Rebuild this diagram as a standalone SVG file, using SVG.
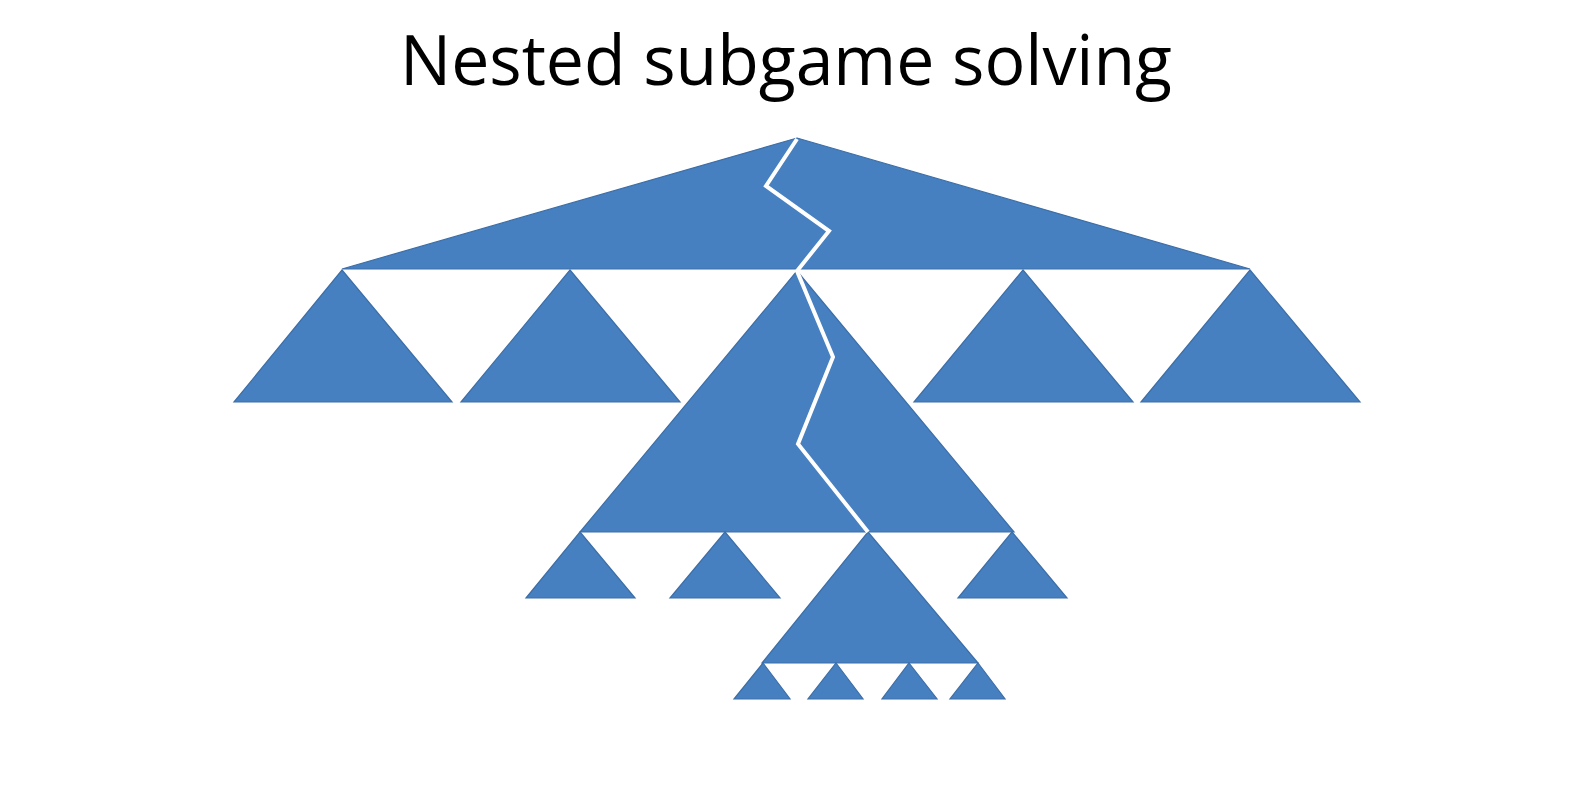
<svg xmlns="http://www.w3.org/2000/svg" width="1574" height="802" viewBox="0 0 1574 802">
<style>
.tri{fill:#4680c1;stroke:#3c6ea8;stroke-width:1.2;stroke-linejoin:miter}
.title{font-family:"Open Sans","Liberation Sans",sans-serif;font-size:70px;fill:#000}
.cut{fill:none;stroke:#ffffff;stroke-width:4;stroke-linejoin:miter;stroke-linecap:butt}
</style>
<rect width="1574" height="802" fill="#ffffff"/>
<text class="title" x="786" y="85" text-anchor="middle" textLength="772" lengthAdjust="spacingAndGlyphs">Nested subgame solving</text>
<g id="root"><polygon class="tri" points="797,138 1250,269 342,269"/></g>
<g id="l2a"><polygon class="tri" points="342,270 452,402 234,402"/></g>
<g id="l2b"><polygon class="tri" points="570,270 680,402 461,402"/></g>
<g id="l2c"><polygon class="tri" points="797,271 1014,532 580,532"/></g>
<g id="l2d"><polygon class="tri" points="1023,270 1133,402 914,402"/></g>
<g id="l2e"><polygon class="tri" points="1250,270 1360,402 1141,402"/></g>
<g id="l3a"><polygon class="tri" points="580,532 635,598 526,598"/></g>
<g id="l3b"><polygon class="tri" points="725,532 780,598 670,598"/></g>
<g id="l3c"><polygon class="tri" points="868,532 978,663 762,663"/></g>
<g id="l3d"><polygon class="tri" points="1012,532 1067,598 958,598"/></g>
<g id="l4a"><polygon class="tri" points="763,663 790,699 734,699"/></g>
<g id="l4b"><polygon class="tri" points="836,663 863,699 808,699"/></g>
<g id="l4c"><polygon class="tri" points="909,663 937,699 882,699"/></g>
<g id="l4d"><polygon class="tri" points="978,663 1005,699 950,699"/></g>
<g id="connectors">
<path class="cut" d="M797,139 L766,186 L829,231 L797,271 L833,357 L798,444 L868,532"/>
</g>
</svg>
